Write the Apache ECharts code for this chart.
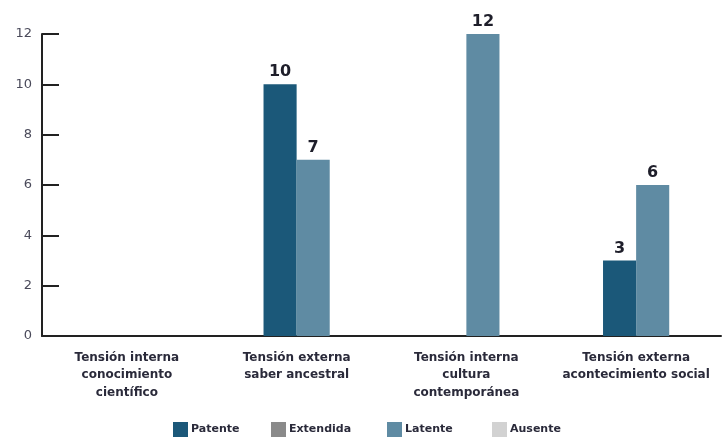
<!DOCTYPE html>
<html><head><meta charset="utf-8">
<script src="https://cdn.jsdelivr.net/npm/echarts@6/dist/echarts.min.js"></script>
<style>html,body{margin:0;padding:0;background:#fff}#c{width:723px;height:439px}</style>
</head><body><div id="c"></div>
<script>
const categories = ['Tensión interna\nconocimiento\ncientífico','Tensión externa\nsaber ancestral','Tensión interna\ncultura\ncontemporánea','Tensión externa\nacontecimiento social'];
const patente = [0, 10, 0, 3];
const extendida = [0, 0, 0, 0];
const latente = [0, 7, 12, 6];
const ausente = [0, 0, 0, 0];
const yTicks = [0, 2, 4, 6, 8, 10, 12];
const legendNames = ['Patente','Extendida','Latente','Ausente'];

const FONT = 'DejaVu Sans';
const TXT = '#2a2a3a';
const lbl = {show:true, position:'top', distance:4, color:'#1e1e2a', fontFamily:FONT, fontWeight:'bold', fontSize:16,
  formatter: p => p.value ? String(p.value) : ''};
function s(name, data, color){
  return {name, type:'bar', data, barGap:'0%', barCategoryGap:'22%',
    itemStyle:{color}, label:lbl, emphasis:{disabled:true}};
}
const legendLeft = [173, 271, 387, 492];
const legends = legendNames.map((n, i) => ({
  bottom:2, left:legendLeft[i], padding:0, itemWidth:15, itemHeight:15, icon:'rect', data:[n], selectedMode:false,
  textStyle:{fontFamily:FONT, fontSize:11, fontWeight:'bold', color:TXT, padding:[0,0,0,-2]}
}));
const chart = echarts.init(document.getElementById('c'));
chart.setOption({
  animation:false,
  grid:{left:42, right:2, top:34, bottom:103},
  legend:legends,
  xAxis:{type:'category', data:categories,
    axisLine:{lineStyle:{color:'#222', width:2}},
    axisTick:{inside:true, length:9, lineStyle:{color:'#222', width:2}},
    axisLabel:{interval:0, margin:13, fontFamily:FONT, fontSize:12, fontWeight:'bold', color:TXT, lineHeight:17.5}},
  yAxis:{type:'value', min:yTicks[0], max:yTicks[yTicks.length-1], interval:2,
    splitLine:{show:false},
    axisLine:{show:true, lineStyle:{color:'#222', width:2}},
    axisTick:{show:true, inside:true, length:17, lineStyle:{color:'#222', width:2}},
    axisLabel:{margin:10, fontFamily:FONT, fontSize:13, color:'#4a4a5a'}},
  series:[
    s('Extendida', extendida, '#8a8a8a'),
    s('Patente', patente, '#1b5879'),
    s('Latente', latente, '#5f8ba3'),
    s('Ausente', ausente, '#d2d2d2')
  ]
});
</script></body></html>
